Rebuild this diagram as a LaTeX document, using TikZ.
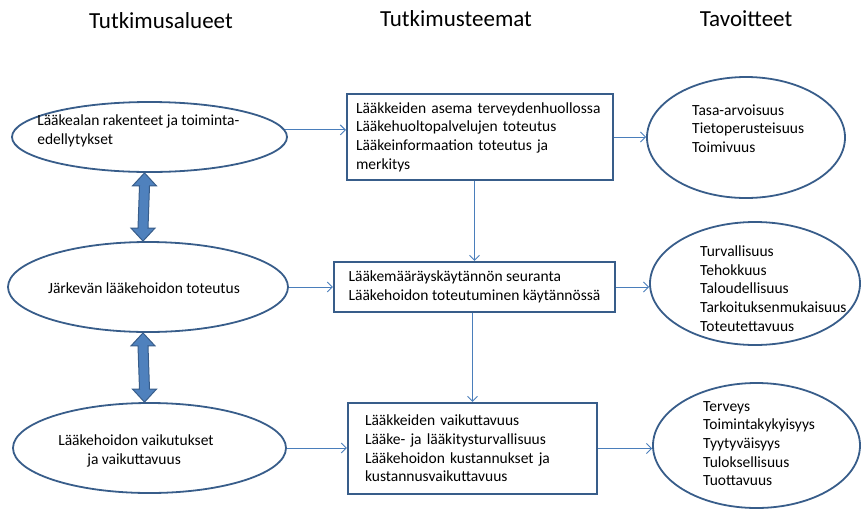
\documentclass[tikz,border=0pt]{standalone}
\usepackage{fontspec}
\setmainfont{Carlito}
\usetikzlibrary{calc,shapes.geometric,arrows.meta}
\definecolor{rim}{HTML}{385D8A}
\definecolor{accent}{HTML}{4F81BD}
\definecolor{wire}{HTML}{4A7EBB}
\tikzset{
	every node/.style={font=\fontsize{15.5}{18.6}\selectfont},
	heading/.style={font=\fontsize{23}{28}\selectfont},
	area/.style={draw=rim, line width=1.8pt, ellipse, inner sep=0pt},
	theme/.style={draw=rim, line width=2.2pt, rectangle, align=left, inner ysep=0pt},
	areatext/.style={align=left, anchor=west, inner sep=0pt},
	conn/.style={draw=wire, line width=0.9pt, -{Straight Barb[length=5pt,width=10pt]}},
	fat/.style={fill=accent, draw=rim, line width=1pt, line join=miter},
}
\def\fatArrow#1#2{
\coordinate (FA) at ($(#1.south)+(-5,0)$);
\coordinate (FB) at ($(#2.north)+(-5,0)$);
\filldraw[fat] (FA) -- ++(12,13) -- ++(-7,0) -- ($(FB)+(5,-13)$) -- ++(7,0) -- (FB)
	-- ++(-12,-13) -- ++(7,0) -- ($(FA)+(-5,13)$) -- ++(-7,0) -- cycle;
}
\begin{document}
\begin{tikzpicture}[x=1pt,y=-1pt]
	\useasboundingbox (0,0) rectangle (862,515);
	% column headings
	\node[heading] (H1) at (161,21) {Tutkimusalueet};
	\node[heading] (H2) at (456,19) {Tutkimusteemat};
	\node[heading] (H3) at (746,19) {Tavoitteet};
	% research areas
	\node[area, minimum width=275pt, minimum height=70pt] (E1) at (149.5,137) {};
	\node[area, minimum width=280pt, minimum height=90pt] (E2) at (148,287) {};
	\node[area, minimum width=273pt, minimum height=90pt] (E3) at (149.5,448) {};
	\node[areatext] (T1) at ($(E1.west)+(26,-6)$) {Lääkealan rakenteet ja toiminta-\\edellytykset};
	\node[inner sep=0pt] (T2) at ($(E2.center)+(-4,1)$) {Järkevän lääkehoidon toteutus};
	\node[areatext] (T3) at ($(E3.west)+(46,3)$) {Lääkehoidon vaikutukset\\\hspace*{29pt}ja vaikuttavuus};
	\fatArrow{E1}{E2}
	\fatArrow{E2}{E3}
	% themes
	\node[theme, text width=248pt, inner xsep=9pt, minimum height=86pt] (B1) at (480,137)
		{Lääkkeiden asema terveydenhuollossa\\Lääkehuoltopalvelujen toteutus\\Lääkeinformaation toteutus ja\\merkitys};
	\node[theme, inner xsep=13pt, minimum width=281pt, minimum height=50pt] (B2) at (474.5,287)
		{Lääkemääräyskäytännön seuranta\\Lääkehoidon toteutuminen käytännössä};
	\node[theme, text width=215pt, inner xsep=17pt, minimum height=91pt] (B3) at (472.5,448.5)
		{Lääkkeiden vaikuttavuus\\Lääke- ja lääkitysturvallisuus\\Lääkehoidon kustannukset ja\\kustannusvaikuttavuus};
	% goals
	\node[area, minimum width=198pt, minimum height=121pt] (E4) at (746,137.5) {};
	\node[area, minimum width=210pt, minimum height=123pt] (E5) at (755,283.5) {};
	\node[area, minimum width=207pt, minimum height=125pt] (E6) at (756.5,445.5) {};
	\node[areatext] (T4) at ($(E4.center)+(-54,-9)$) {Tasa-arvoisuus\\Tietoperusteisuus\\Toimivuus};
	\node[areatext] (T5) at ($(E5.center)+(-55,5)$) {Turvallisuus\\Tehokkuus\\Taloudellisuus\\Tarkoituksenmukaisuus\\Toteutettavuus};
	\node[areatext] (T6) at ($(E6.center)+(-53.5,-2)$) {Terveys\\Toimintakykyisyys\\Tyytyväisyys\\Tuloksellisuus\\Tuottavuus};
	% connectors
	\draw[conn] (E1.3) -- (E1.3 -| B1.west);
	\draw[conn] (E2.east) -- (B2.west);
	\draw[conn] (E3.east) -- (E3.east -| B3.west);
	\draw[conn] (B1.south -| B2.north) -- (B2.north);
	\draw[conn] (B2.south -| B3.north) -- (B3.north);
	\draw[conn] (B1.east) -- (B1.east -| E4.west);
	\draw[conn] (B2.east) -- (B2.east -| E5.west);
	\draw[conn] (B3.east) -- (B3.east -| E6.west);
\end{tikzpicture}
\end{document}
